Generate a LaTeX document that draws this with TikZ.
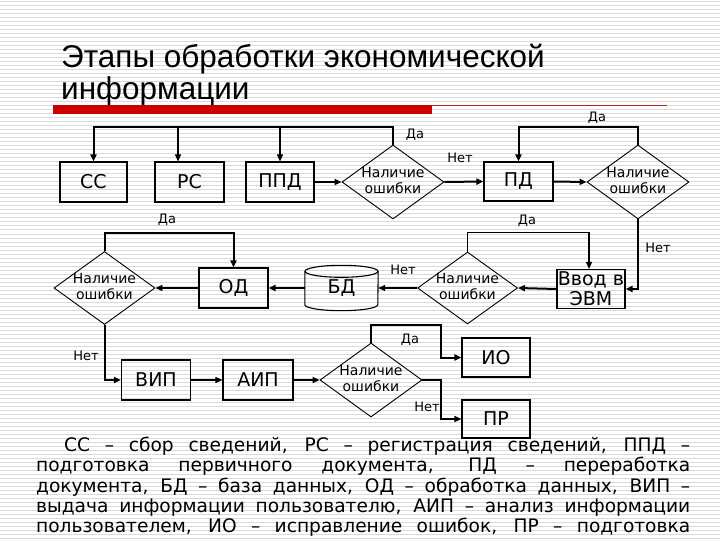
\documentclass[tikz,border=0pt]{standalone}
\usepackage{fontspec}
\setmainfont{Liberation Sans}
\newfontfamily\nodefont{DejaVu Sans}
\usetikzlibrary{shapes.geometric,arrows.meta,calc}
\definecolor{barred}{RGB}{204,0,0}
\definecolor{linered}{RGB}{180,40,40}
\begin{document}
\begin{tikzpicture}[x=1pt,y=-1pt,
  stripe/.style={gray!30,line width=1pt},
  boxnode/.style={draw,line width=1.1pt,inner sep=0pt,minimum width=68,minimum height=40,font=\nodefont\fontsize{19}{21}\selectfont},
  dia/.style={draw,diamond,line width=0.9pt,inner sep=0pt,minimum width=102,minimum height=74,font=\nodefont\fontsize{14}{16}\selectfont},
  lab/.style={inner sep=0pt,font=\nodefont\fontsize{13}{15}\selectfont},
  arr/.style={-{Triangle[length=7pt,width=6pt]},line width=2pt},
  tarr/.style={-{Triangle[length=7pt,width=6pt]},line width=1.1pt}
]
\useasboundingbox (0,0) rectangle (720,540);
\fill[white] (0,0) rectangle (720,540);
\foreach \yy in {2,6,...,538} \draw[stripe] (0,\yy) -- (720,\yy);

% title
\node[anchor=base west,inner sep=0pt,font=\fontsize{31.5}{33}\selectfont] (title1) at (61,68) {Этапы обработки экономической};
\node[anchor=base west,inner sep=0pt,font=\fontsize{31.5}{33}\selectfont] (title2) at (61,100) {информации};
\fill[barred] (53,105) rectangle (432,114);
\draw[linered,line width=1pt] (432,105.5) -- (667,105.5);

\newcommand{\nal}{\makebox[0pt]{\begin{tabular}{@{}c@{}}Наличие\\ошибки\end{tabular}}}

% row 1
\node[boxnode,minimum width=67] (cc) at (93.5,182) {СС};
\node[boxnode,minimum width=69] (rc) at (189.5,182) {РС};
\node[boxnode] (ppd) at (280,182) {ППД};
\node[dia] (d1) at (393,182) {\nal};
\node[boxnode,minimum width=69,minimum height=39] (pd) at (518.5,181.5) {ПД};
\node[dia] (d2) at (638,182) {\nal};

% row 2
\node[dia,minimum width=101,minimum height=73] (d4) at (104.5,288) {\nal};
\node[boxnode,minimum width=69] (od) at (233.5,288) {ОД};
\node[inner sep=0pt,minimum width=73,minimum height=45,font=\nodefont\fontsize{19}{21}\selectfont] (bd) at (341.5,288) {БД};
\node[dia,minimum width=100,minimum height=72] (d3) at (467.5,288) {\nal};
\node[boxnode,minimum height=39,align=center,font=\nodefont\fontsize{19}{20}\selectfont] (evm) at (591,289) {Ввод в\\ЭВМ};

% row 3
\node[boxnode,minimum width=69] (vip) at (156,380) {ВИП};
\node[boxnode,minimum width=70] (aip) at (258,380) {АИП};
\node[dia] (d5) at (371,380) {\nal};
\node[boxnode,minimum height=39] (io) at (496,357.5) {ИО};
\node[boxnode,minimum height=38] (pr) at (496,419) {ПР};

% cylinder outline for BD
\draw[line width=1.1pt] ($(bd.north west)+(0,6)$) -- ($(bd.south west)+(0,-6)$)
   arc[start angle=180,end angle=0,x radius=36.5,y radius=6] -- ($(bd.north east)+(0,6)$);
\draw[line width=1.1pt] ($(bd.north)+(0,6)$) ellipse [x radius=36.5,y radius=6];

% coordinates
\coordinate (ytop) at (0,127);
\coordinate (rcin) at ([xshift=-11.5pt]rc.north);
\coordinate (jx) at (441,0);

% connectors row 1
\draw[arr] (d1.north) -- (d1.north |- ytop) -| (cc.north);
\draw[tarr] (rcin |- ytop) -- (rcin);
\draw[tarr] (ppd.north |- ytop) -- (ppd.north);
\draw[arr] (ppd.east) -- (d1.west);
\draw[arr] (d1.east) -- (pd.west);
\draw[arr] (pd.east) -- (d2.west);
\draw[arr] (d2.north) -- ++(0,-18) -| (pd.north);
\draw[arr] (d2.south) |- (evm.east);

% connectors row 2
\draw[arr] (evm.west) -- (d3.east);
\draw[tarr] (d3.north) -- ++(0,-19) -| ([xshift=-2pt]evm.north);
\draw[arr] (d3.west) -- (bd.east);
\draw[arr] (bd.west) -- (od.east);
\draw[arr] (od.west) -- (d4.east);
\draw[arr] (d4.north) -- ++(0,-18) -| (od.north);
\draw[arr] (d4.south) |- (vip.west);

% connectors row 3
\draw[tarr] (vip.east) -- (aip.west);
\draw[arr] (aip.east) -- (d5.west);
\draw[arr] (d5.north) -- ++(0,-18) -| (jx |- io.west) -- (io.west);
\draw[tarr] (d5.east) -| (jx |- pr.west) -- (pr.west);

% labels
\node[lab] (l1) at (415,135) {Да};
\node[lab] (l2) at (460,158) {Нет};
\node[lab] (l3) at (597,118) {Да};
\node[lab] (l4) at (658,248) {Нет};
\node[lab] (l5) at (527,221) {Да};
\node[lab] (l6) at (403,270) {Нет};
\node[lab] (l7) at (167,220) {Да};
\node[lab] (l8) at (86,356) {Нет};
\node[lab] (l9) at (410,340) {Да};
\node[lab] (l10) at (427,407) {Нет};

% legend
\node[anchor=north west,inner sep=0pt,text width=654pt,align=justify,font=\nodefont\fontsize{18.6}{20.3}\selectfont] (legend) at (36,437)
{\hspace*{28pt}СС – сбор сведений, РС – регистрация сведений, ППД –\linebreak
подготовка первичного документа, ПД – переработка\linebreak
документа, БД – база данных, ОД – обработка данных, ВИП –\linebreak
выдача информации пользователю, АИП – анализ информации\linebreak
пользователем, ИО – исправление ошибок, ПР – подготовка\linebreak
решения};
\end{tikzpicture}
\end{document}
